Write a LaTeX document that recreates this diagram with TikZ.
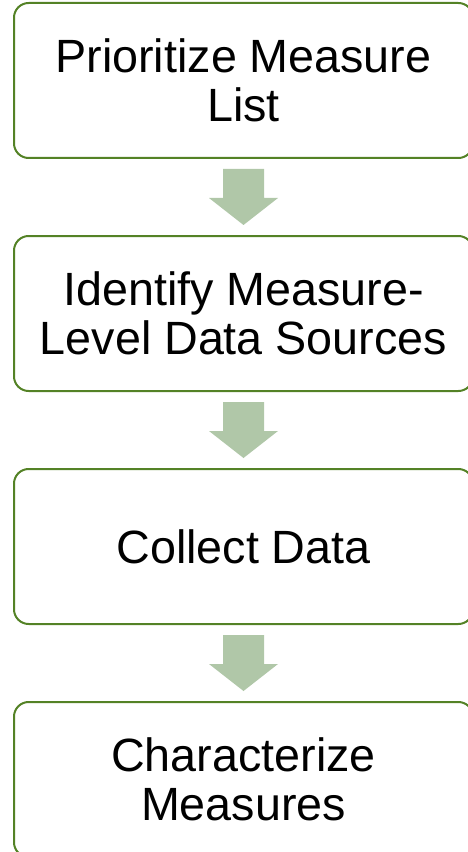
\documentclass[tikz,border=0pt]{standalone}
\usepackage{fontspec}
\setmainfont{Liberation Sans}
\usetikzlibrary{calc}

\definecolor{stepgreen}{RGB}{84,130,38}
\definecolor{arrowsage}{RGB}{176,199,168}

\tikzset{every picture/.style={line width=0.75pt}}
\tikzset{
  stepbox/.style={draw=stepgreen, line width=1.5pt, rounded corners=11pt, fill=white,
    minimum width=344.25pt, minimum height=116.25pt, align=center,
    font=\fontsize{35}{37}\selectfont, inner sep=0pt},
  downarrow/.style={fill=arrowsage, draw=none}
}

\begin{document}
\begin{tikzpicture}[x=0.75pt,y=0.75pt,yscale=-1,xscale=1]
		\useasboundingbox (0,0) rectangle (467,852);

		% Text Node
		\node[stepbox] (prio) at (243.5,80.5) {Prioritize Measure\\List};
		% Text Node
		\node[stepbox] (ident) at (243.5,313.5) {Identify Measure-\\Level Data Sources};
		% Text Node
		\node[stepbox] (coll) at (243.5,546.5) {Collect Data};
		% Text Node
		\node[stepbox] (char) at (243.5,779.5) {Characterize\\Measures};

		%Shape: Down Arrow
		\foreach \a/\b in {prio/ident,ident/coll,coll/char}{
		\fill[downarrow] ($(\a.south)+(-20.5,10)$) -- ($(\a.south)+(20.5,10)$) -- ($(\a.south)+(20.5,39)$)
		  -- ($(\a.south)+(34.5,39)$) -- ($(\b.north)+(0,-10)$) -- ($(\a.south)+(-34.5,39)$)
		  -- ($(\a.south)+(-20.5,39)$) -- cycle ;
		}

\end{tikzpicture}
\end{document}
